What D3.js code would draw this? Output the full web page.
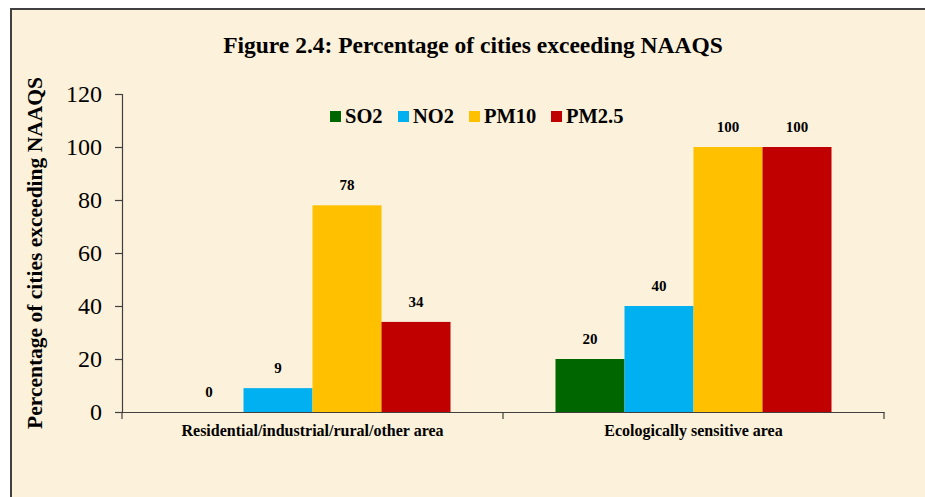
<!DOCTYPE html>
<html><head><meta charset="utf-8">
<script src="https://cdn.jsdelivr.net/npm/d3@7"></script>
<style>
html,body{margin:0;padding:0;background:#fff;}
svg{display:block;}
</style></head>
<body>
<script>
const categories = ["Residential/industrial/rural/other area", "Ecologically sensitive area"];
const seriesNames = ["SO2", "NO2", "PM10", "PM2.5"];
const SO2 = [0, 20];
const NO2 = [9, 40];
const PM10 = [78, 100];
const PM25 = [34, 100];
const seriesValues = [SO2, NO2, PM10, PM25];
const seriesColors = ["#006600", "#00B0F0", "#FFC000", "#C00000"];
const yTicks = [0, 20, 40, 60, 80, 100, 120];

const W = 925, H = 497;
const svg = d3.select("body").append("svg").attr("width", W).attr("height", H);
const serif = "'Liberation Serif','Times New Roman',serif";

// background with frame
svg.append("rect").attr("x", 0).attr("y", 0).attr("width", W).attr("height", H).attr("fill", "#fff");
svg.append("rect").attr("x", 11).attr("y", 9).attr("width", W + 20).attr("height", H + 20)
  .attr("fill", "#FCF1DA").attr("stroke", "#404040").attr("stroke-width", 2);

const x0 = d3.scaleBand().domain(categories).range([122, 884]).paddingInner(0).paddingOuter(0);
const x1 = d3.scaleBand().domain(seriesNames).range([52.5, x0.bandwidth() - 52.5]).padding(0);
const y = d3.scaleLinear().domain([0, 120]).range([412, 94]);

// title
svg.append("text").attr("x", 473).attr("y", 53).attr("text-anchor", "middle")
  .attr("font-family", serif).attr("font-weight", "bold").attr("font-size", 23.5).attr("fill", "#000")
  .text("Figure 2.4: Percentage of cities exceeding NAAQS");

// y axis title
svg.append("text").attr("transform", "translate(42,253) rotate(-90)").attr("text-anchor", "middle")
  .attr("font-family", serif).attr("font-weight", "bold").attr("font-size", 21.5).attr("fill", "#000")
  .text("Percentage of cities exceeding NAAQS");

// y axis
const yAxis = svg.append("g").attr("transform", "translate(122,0)")
  .call(d3.axisLeft(y).tickValues(yTicks).tickSize(7).tickPadding(13).tickFormat(d3.format("d")));
yAxis.select(".domain").attr("stroke", "#404040").attr("stroke-width", 1.2);
yAxis.selectAll(".tick line").attr("stroke", "#404040").attr("stroke-width", 1.2);
yAxis.selectAll(".tick text").attr("font-family", serif).attr("font-size", 24).attr("fill", "#000");

// bars
const groups = svg.append("g").selectAll("g").data(categories).join("g")
  .attr("transform", d => `translate(${x0(d)},0)`);
groups.selectAll("rect").data((d, i) => seriesNames.map((s, j) => ({s, v: seriesValues[j][i], c: seriesColors[j]})))
  .join("rect")
  .attr("x", d => x1(d.s)).attr("width", x1.bandwidth())
  .attr("y", d => y(d.v)).attr("height", d => y(0) - y(d.v))
  .attr("fill", d => d.c);
groups.selectAll("text").data((d, i) => seriesNames.map((s, j) => ({s, v: seriesValues[j][i]})))
  .join("text")
  .attr("x", d => x1(d.s) + x1.bandwidth() / 2).attr("y", d => y(d.v) - 15)
  .attr("text-anchor", "middle").attr("font-family", serif).attr("font-weight", "bold")
  .attr("font-size", 15).attr("fill", "#000").text(d => d.v);

// x axis
const xAxis = svg.append("g").attr("transform", "translate(0,412)")
  .call(d3.axisBottom(x0).tickSize(0).tickPadding(13));
xAxis.select(".domain").attr("stroke", "#404040").attr("stroke-width", 1.2);
xAxis.selectAll(".tick text").attr("font-family", serif).attr("font-weight", "bold")
  .attr("font-size", 16).attr("fill", "#000");
// category separator ticks
const sepTicks = [x0.range()[0], x0(categories[1]), x0.range()[1]];
svg.append("g").selectAll("line").data(sepTicks).join("line")
  .attr("x1", d => d).attr("x2", d => d).attr("y1", 412).attr("y2", 419)
  .attr("stroke", "#404040").attr("stroke-width", 1.2);

// legend
const legendX = [330, 398, 469, 551];
const lg = svg.append("g").selectAll("g").data(seriesNames).join("g")
  .attr("transform", (d, i) => `translate(${legendX[i]},111)`);
lg.append("rect").attr("width", 11).attr("height", 11).attr("fill", (d, i) => seriesColors[i]);
lg.append("text").attr("x", 15).attr("y", 12).attr("font-family", serif).attr("font-weight", "bold")
  .attr("font-size", 20.5).attr("fill", "#000").text(d => d);
</script>
</body></html>
